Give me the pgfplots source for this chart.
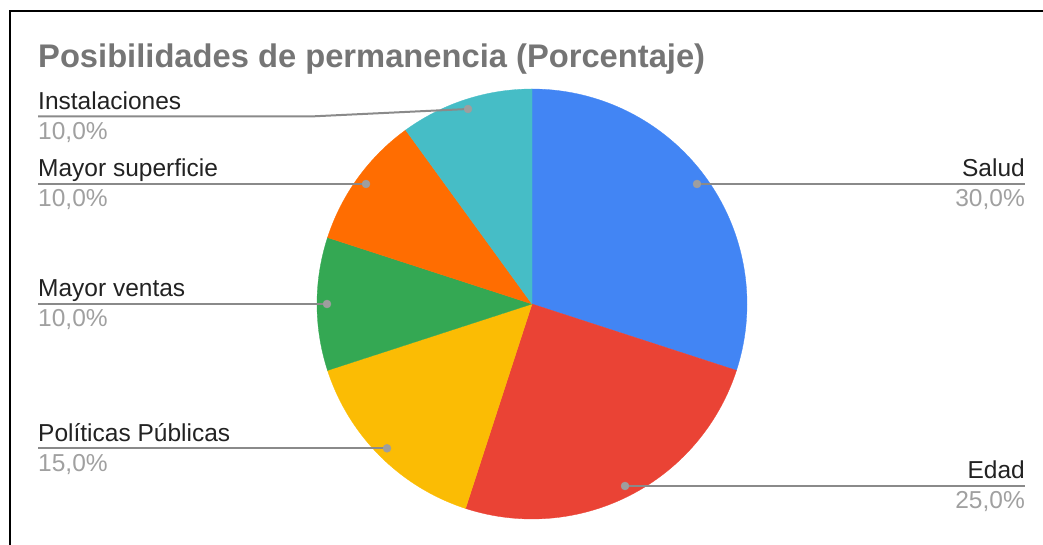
\documentclass[border=0pt]{standalone}
\usepackage{pgfplots}
\pgfplotsset{compat=1.18}
\usepackage{fontspec}
\setmainfont{Liberation Sans}
\definecolor{cSalud}{HTML}{4285F4}
\definecolor{cEdad}{HTML}{EA4335}
\definecolor{cPol}{HTML}{FBBC04}
\definecolor{cVen}{HTML}{34A853}
\definecolor{cSup}{HTML}{FF6D01}
\definecolor{cIns}{HTML}{46BDC6}
\definecolor{ttl}{HTML}{757575}
\definecolor{nm}{HTML}{222222}
\definecolor{pc}{HTML}{A0A0A0}
\definecolor{ld}{HTML}{8A8A8A}
\definecolor{dt}{HTML}{9E9E9E}
% pie centre (px) and radius
\def\cx{532}\def\cy{241}\def\R{215}
% slice: start angle, percentage, colour
\newcommand{\slice}[3]{%
  \addplot[fill=#3, draw=#3, line width=0.3pt, domain={#1-3.6*#2}:{#1}, samples=80, variable=\t]
    ({\cx+\R*cos(\t)},{\cy+\R*sin(\t)}) -- (axis cs:\cx,\cy) -- cycle;}
\begin{document}
\begin{tikzpicture}
\begin{axis}[
  name=ax,
  width=1043pt, height=545pt, scale only axis,
  xmin=0, xmax=1043, ymin=0, ymax=545,
  axis lines=none, xtick=\empty, ytick=\empty,
  clip=false,
]
% values: Salud 30, Edad 25, Politicas 15, Ventas 10, Superficie 10, Instalaciones 10
\slice{90}{30}{cSalud}
\slice{-18}{25}{cEdad}
\slice{-108}{15}{cPol}
\slice{-162}{10}{cVen}
\slice{-198}{10}{cSup}
\slice{-234}{10}{cIns}
% frame
\draw[black, line width=2pt] (axis cs:10,0) -- (axis cs:10,534) -- (axis cs:1043,534);
% leader lines
\addplot[ld, line width=2pt] coordinates {(697,361) (1025,361)};
\addplot[ld, line width=2pt] coordinates {(625,59) (1025,59)};
\addplot[ld, line width=2pt] coordinates {(468,436) (310,428.5) (38,428.5)};
\addplot[ld, line width=2pt] coordinates {(366,361) (38,361)};
\addplot[ld, line width=2pt] coordinates {(327,241) (38,241)};
\addplot[ld, line width=2pt] coordinates {(387,96.7) (38,96.7)};
% dots
\addplot[only marks, mark=*, mark size=4pt, dt, mark options={draw=dt, fill=dt}]
  coordinates {(697,361) (625,59) (468,436) (366,361) (327,241) (387,96.7)};
% title
\node[anchor=base west, text=ttl, font=\fontsize{32.7}{38}\selectfont\bfseries, inner sep=0pt]
  at (axis cs:38,477.5) {Posibilidades de permanencia (Porcentaje)};
% labels
\tikzset{nmst/.style={text=nm, font=\fontsize{24.5}{28}\selectfont, inner sep=0pt},
         pcst/.style={text=pc, font=\fontsize{24.5}{28}\selectfont, inner sep=0pt}}
\node[nmst, anchor=base east] at (axis cs:1025,368) {Salud};
\node[pcst, anchor=base east] at (axis cs:1025,338) {30,0\%};
\node[nmst, anchor=base east] at (axis cs:1025,66) {Edad};
\node[pcst, anchor=base east] at (axis cs:1025,36) {25,0\%};
\node[nmst, anchor=base west] at (axis cs:38,435.5) {Instalaciones};
\node[pcst, anchor=base west] at (axis cs:38,405.5) {10,0\%};
\node[nmst, anchor=base west] at (axis cs:38,368) {Mayor superficie};
\node[pcst, anchor=base west] at (axis cs:38,338) {10,0\%};
\node[nmst, anchor=base west] at (axis cs:38,248) {Mayor ventas};
\node[pcst, anchor=base west] at (axis cs:38,218) {10,0\%};
\node[nmst, anchor=base west] at (axis cs:38,103.7) {Políticas Públicas};
\node[pcst, anchor=base west] at (axis cs:38,73.7) {15,0\%};
\end{axis}
\pgfresetboundingbox
\path[use as bounding box] (ax.south west) rectangle (ax.north east);
\end{tikzpicture}
\end{document}
